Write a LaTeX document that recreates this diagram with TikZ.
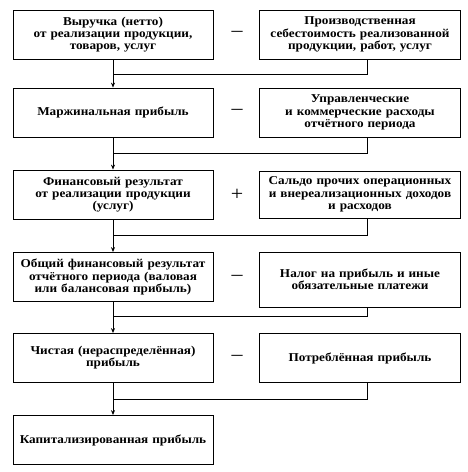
\documentclass[tikz,border=0pt]{standalone}
\usepackage{fontspec}
\setmainfont[FakeStretch=1.1]{Liberation Serif}
\usetikzlibrary{arrows.meta}
\begin{document}
\begin{tikzpicture}[x=1pt,y=-1pt,
  box/.style={draw,line width=0.8pt,minimum width=200pt,minimum height=49pt,inner sep=0pt,
    text width=200pt,align=center,font=\fontsize{12}{12.2}\selectfont\bfseries},
  conn/.style={line width=0.7pt},
  arr/.style={line width=0.7pt,-{Stealth[length=5pt,width=4pt]}},
  sign/.style={font=\fontsize{20}{20}\selectfont,inner sep=0pt}]
\useasboundingbox (0,0) rectangle (467,472);
% left column
\node[box] (l1) at (113,34.5) {Выручка (нетто)\\от реализации продукции,\\товаров, услуг};
\node[box] (l2) at (113,112.5) {Маржинальная прибыль};
\node[box] (l3) at (113,194.5) {Финансовый результат\\от реализации продукции\\(услуг)};
\node[box] (l4) at (113,277) {Общий финансовый результат\\отчётного периода (валовая\\или балансовая прибыль)};
\node[box] (l5) at (113,358) {Чистая (нераспределённая)\\прибыль};
\node[box] (l6) at (113,440) {Капитализированная прибыль};
% right column
\node[box,minimum width=201pt] (r1) at (360,34.5) {Производственная\\себестоимость реализованной\\продукции, работ, услуг};
\node[box,minimum width=201pt] (r2) at (360,112.5) {Управленческие\\и коммерческие расходы\\отчётного периода};
\node[box,minimum width=201pt,minimum height=47pt] (r3) at (360,194.5) {Сальдо прочих операционных\\и внереализационных доходов\\и расходов};
\node[box,minimum width=201pt,minimum height=55pt] (r4) at (360,279.5) {Налог на прибыль и иные\\обязательные платежи};
\node[box,minimum width=201pt] (r5) at (360,358) {Потреблённая прибыль};
% signs
\node[sign] (s1) at (237,34) {–};
\node[sign] (s2) at (237,112) {–};
\node[sign] (s3) at (237,195) {+};
\node[sign] (s4) at (237,278) {–};
\node[sign] (s5) at (237,358) {–};
% junction coordinates
\coordinate (j1) at (113,74);
\coordinate (j2) at (113,153);
\coordinate (j3) at (113,235);
\coordinate (j4) at (113,316);
\coordinate (j5) at (113,399);
% arrows
\draw[arr] (l1.south) -- (l2.north);
\draw[arr] (l2.south) -- (l3.north);
\draw[arr] (l3.south) -- (l4.north);
\draw[arr] (l4.south) -- (l5.north);
\draw[arr] (l5.south) -- (l6.north);
% feed lines from right boxes
\draw[conn] (r1.south -| 367,0) |- (j1);
\draw[conn] (r2.south -| 367,0) |- (j2);
\draw[conn] (r3.south -| 367,0) |- (j3);
\draw[conn] (r4.south -| 367,0) |- (j4);
\draw[conn] (r5.south -| 367,0) |- (j5);
\end{tikzpicture}
\end{document}
